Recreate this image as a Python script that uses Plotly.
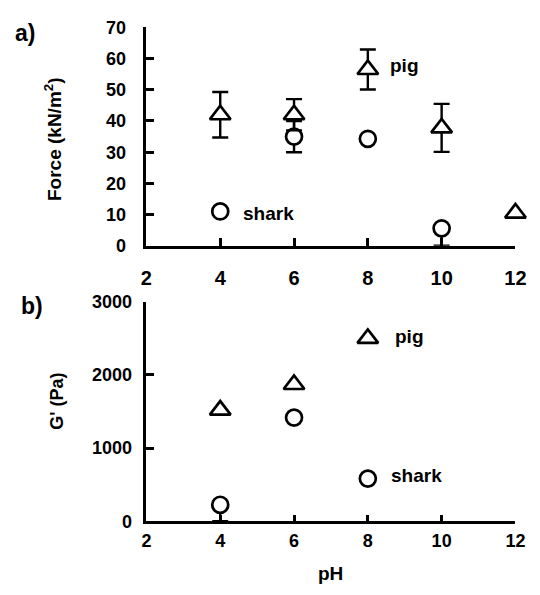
import plotly.graph_objects as go

# ---- data ----
ph_pig_a = [4, 6, 8, 10]
force_pig = [42, 42, 56.5, 37.8]
force_pig_err = [7.3, 5, 6.4, 7.7]
ph_pig_a_noerr = [12]
force_pig_noerr = [10.5]

ph_shark_a_err = [6, 10]
force_shark_err_pts = [35, 5.6]
force_shark_err_up = [5, 0]
force_shark_err_down = [5, 5.6]
ph_shark_a = [4, 8]
force_shark = [11, 34.3]

ph_pig_b = [4, 6, 8]
g_pig = [1520, 1870, 2500]

ph_shark_b_err = [4]
g_shark_err_pts = [225]
g_shark_err_down = [225]
ph_shark_b = [6, 8]
g_shark = [1417, 583]

x_ticks = [2, 4, 6, 8, 10, 12]
force_ticks = [0, 10, 20, 30, 40, 50, 60, 70]
g_ticks = [0, 1000, 2000, 3000]

FONT = "Liberation Sans, Arial, Helvetica, sans-serif"
W, H = 540, 595

fig = go.Figure()

def add(x, y, sym, xa, ya, up=None, down=None):
    eb = None
    if down is not None:
        eb = dict(type="data", symmetric=False,
                  array=up if up is not None else [0] * len(down),
                  arrayminus=down, visible=True, color="black",
                  thickness=2.4, width=8)
    fig.add_trace(go.Scatter(
        x=x, y=y, mode="markers", xaxis=xa, yaxis=ya,
        marker=dict(symbol=sym, size=16 if sym == "circle" else 18,
                    color="white", line=dict(color="black", width=2.7)),
        error_y=eb, cliponaxis=False, showlegend=False))

add(ph_shark_a, force_shark, "circle", "x", "y")
add(ph_shark_a_err, force_shark_err_pts, "circle", "x", "y",
    up=force_shark_err_up, down=force_shark_err_down)
add(ph_pig_a, force_pig, "triangle-up", "x", "y",
    up=force_pig_err, down=force_pig_err)
add(ph_pig_a_noerr, force_pig_noerr, "triangle-up", "x", "y")
add(ph_shark_b, g_shark, "circle", "x2", "y2")
add(ph_shark_b_err, g_shark_err_pts, "circle", "x2", "y2",
    down=g_shark_err_down)
add(ph_pig_b, g_pig, "triangle-up", "x2", "y2")

def py(p):
    return 1 - p / H

def pxx(p):
    return p / W

axis_common = dict(showline=True, linecolor="black", linewidth=2.6,
                   showgrid=False, zeroline=False, ticks="inside",
                   tickcolor="black", tickwidth=2.6)

fig.update_layout(
    width=W, height=H,
    margin=dict(l=0, r=0, t=0, b=0),
    plot_bgcolor="white", paper_bgcolor="white",
    font=dict(family=FONT, color="black"),
    xaxis=dict(domain=[pxx(145), pxx(526)], range=[2, 12], anchor="y",
               tickvals=x_ticks, ticklen=8, ticklabelstandoff=12,
               tickfont=dict(size=20, family=FONT, weight="bold"),
               **axis_common),
    yaxis=dict(domain=[py(244), py(18)], range=[0, 70], anchor="x",
               tickvals=force_ticks, ticklen=8, ticklabelstandoff=14,
               tickfont=dict(size=18, family=FONT, weight="bold"),
               **axis_common),
    xaxis2=dict(domain=[pxx(145), pxx(526)], range=[2, 12], anchor="y2",
                tickvals=x_ticks, ticklen=6, ticklabelstandoff=1,
                tickfont=dict(size=18, family=FONT, weight="bold"),
                **axis_common),
    yaxis2=dict(domain=[py(529), py(302)], range=[0, 3000], anchor="x2",
                tickvals=g_ticks, ticklen=8, ticklabelstandoff=8,
                tickfont=dict(size=18, family=FONT, weight="bold"),
                **axis_common),
)

def ann(text, x, y, size, xref="paper", yref="paper", angle=0):
    fig.add_annotation(text=text, x=x, y=y, xref=xref, yref=yref,
                       showarrow=False, textangle=angle, xanchor="center",
                       yanchor="middle",
                       font=dict(size=size, family=FONT, color="black",
                                 weight="bold"))

# panel letters
ann("a)", pxx(20), py(24), 23)
ann("b)", pxx(27), py(306), 23)
# y axis titles
ann("Force (kN/m<sup>2</sup>)", pxx(48), py(133), 19, angle=-90)
ann("G' (Pa)", pxx(53), py(405), 18, angle=-90)
# x axis title
ann("pH", pxx(335), py(583), 19)
# series labels
ann("pig", 9.0, 57.9, 19, xref="x", yref="y")
ann("shark", 5.31, 10.5, 19, xref="x", yref="y")
ann("pig", 9.14, 2524, 19, xref="x2", yref="y2")
ann("shark", 9.32, 621, 19, xref="x2", yref="y2")

fig.write_html("out.html")
